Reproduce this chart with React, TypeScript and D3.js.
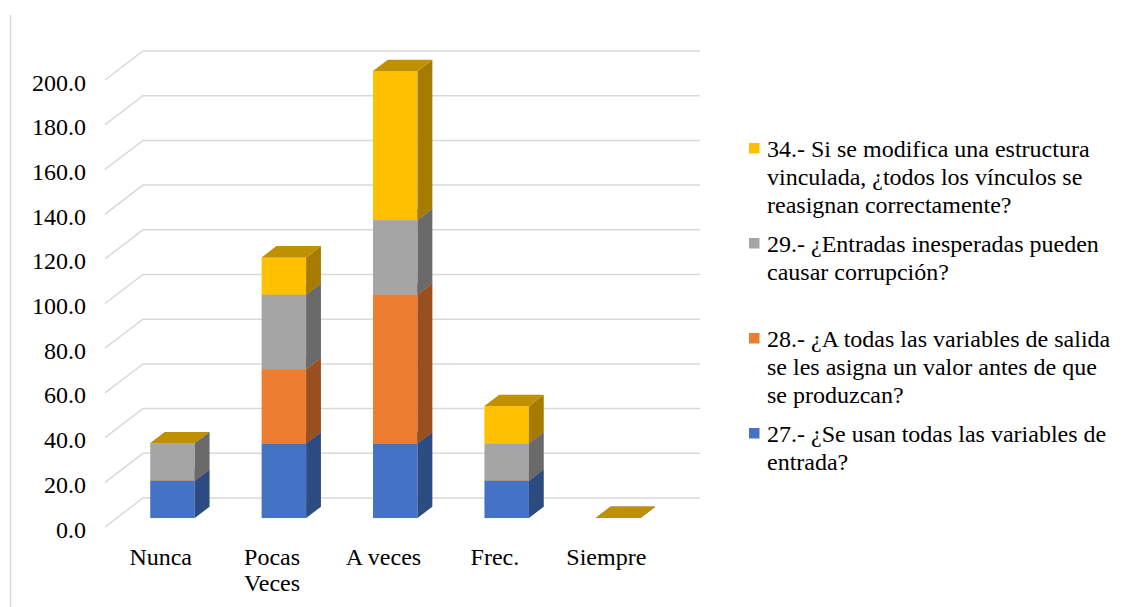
import React from "react";
import * as d3 from "d3";

// Response categories and percentage of answers per question
const categories = ["Nunca", "Pocas Veces", "A veces", "Frec.", "Siempre"];
const categoryLines = [["Nunca"], ["Pocas", "Veces"], ["A veces"], ["Frec."], ["Siempre"]];
const q27 = [16.7, 33.3, 33.3, 16.7, 0];
const q28 = [0, 33.3, 66.7, 0, 0];
const q29 = [16.7, 33.3, 33.3, 16.7, 0];
const q34 = [0, 16.7, 66.7, 16.7, 0];
const yTicks = [0, 20, 40, 60, 80, 100, 120, 140, 160, 180, 200];

const seriesKeys = ["q27", "q28", "q29", "q34"];
const seriesStyle: Record<string, { front: string; side: string; top: string }> = {
  q27: { front: "#4472C4", side: "#2C4B80", top: "#3A63AD" },
  q28: { front: "#ED7D31", side: "#9A4F1E", top: "#C9692A" },
  q29: { front: "#A5A5A5", side: "#6A6A6A", top: "#8C8C8C" },
  q34: { front: "#FFC000", side: "#A67C00", top: "#BF9000" },
};

const legendItems = [
  { key: "q34", lines: ["34.- Si se modifica una estructura", "vinculada, ¿todos los vínculos se", "reasignan correctamente?"], y: 157 },
  { key: "q29", lines: ["29.- ¿Entradas inesperadas pueden", "causar corrupción?"], y: 252 },
  { key: "q28", lines: ["28.- ¿A todas las variables de salida", "se les asigna un valor antes de que", "se produzcan?"], y: 347 },
  { key: "q27", lines: ["27.- ¿Se usan todas las variables de", "entrada?"], y: 442 },
];

const W = 1122;
const H = 607;
const font = "Liberation Serif, Times New Roman, DejaVu Serif, serif";
const fontSize = 24;

// Plot geometry (oblique 3D projection)
const floorLeft = 105;
const floorRight = 662;
const depthX = 38;
const depthY = -29;
const barFrontT = 0.31; // fraction of depth where bar front face sits
const barBackT = 0.70;
const barWidth = 44.5;

export default function App() {
  const rows = categories.map((c, i) => ({
    cat: c,
    q27: q27[i],
    q28: q28[i],
    q29: q29[i],
    q34: q34[i],
  }));
  const stacked = d3.stack<any>().keys(seriesKeys)(rows);

  const y = d3.scaleLinear().domain([0, 200]).range([527, 80]);
  const x = d3.scaleBand<string>().domain(categories).range([floorLeft, floorRight]);

  const fdx = depthX * barFrontT;
  const fdy = depthY * barFrontT;
  const bdx = depthX * (barBackT - barFrontT);
  const bdy = depthY * (barBackT - barFrontT);

  const bars: React.ReactNode[] = [];
  categories.forEach((c, ci) => {
    const cx = (x(c) as number) + x.bandwidth() / 2 + fdx;
    const x0 = cx - barWidth / 2;
    const x1 = cx + barWidth / 2;
    stacked.forEach((s) => {
      const [v0, v1] = s[ci];
      const yb = y(v0) + fdy;
      const yt = y(v1) + fdy;
      const st = seriesStyle[s.key];
      const k = `${ci}-${s.key}`;
      bars.push(
        <g key={k}>
          {v1 > v0 && (
            <>
              <rect x={x0} y={yt} width={x1 - x0} height={yb - yt} fill={st.front} />
              <polygon
                points={`${x1},${yb} ${x1 + bdx},${yb + bdy} ${x1 + bdx},${yt + bdy} ${x1},${yt}`}
                fill={st.side}
              />
            </>
          )}
          <polygon
            points={`${x0},${yt} ${x1},${yt} ${x1 + bdx},${yt + bdy} ${x0 + bdx},${yt + bdy}`}
            fill={st.top}
          />
        </g>
      );
    });
  });

  return (
    <svg
      width={W}
      height={H}
      style={{ position: "absolute", left: 0, top: 0, background: "#fff", fontFamily: font }}
    >
      <line x1={10.5} y1={15} x2={10.5} y2={H} stroke="#d9d9d9" strokeWidth={1.5} />

      {/* gridlines: floor-to-wall diagonal then back wall */}
      {yTicks.map((t) => {
        const yf = y(t);
        return (
          <path
            key={t}
            d={`M${floorLeft},${yf} L${floorLeft + depthX},${yf + depthY} L${700},${yf + depthY}`}
            fill="none"
            stroke="#d9d9d9"
            strokeWidth={1.5}
          />
        );
      })}

      {yTicks.map((t) => (
        <text
          key={`l${t}`}
          x={86}
          y={y(t) + 2.5}
          textAnchor="end"
          dominantBaseline="central"
          fontSize={fontSize}
          fill="#000"
        >
          {d3.format(".1f")(t)}
        </text>
      ))}

      {bars}

      {categories.map((c, ci) => {
        const cx = (x(c) as number) + x.bandwidth() / 2;
        return (
          <text key={`c${c}`} textAnchor="middle" fontSize={fontSize} fill="#000">
            {categoryLines[ci].map((w, i) => (
              <tspan key={i} x={cx} y={565 + i * 26}>
                {w}
              </tspan>
            ))}
          </text>
        );
      })}

      {legendItems.map((it) => (
        <g key={it.key}>
          <rect x={749} y={it.y - 14} width={10.5} height={10.5} fill={seriesStyle[it.key].front} />
          <text fontSize={fontSize} fill="#000">
            {it.lines.map((ln, i) => (
              <tspan key={i} x={767} y={it.y + i * 28}>
                {ln}
              </tspan>
            ))}
          </text>
        </g>
      ))}
    </svg>
  );
}
